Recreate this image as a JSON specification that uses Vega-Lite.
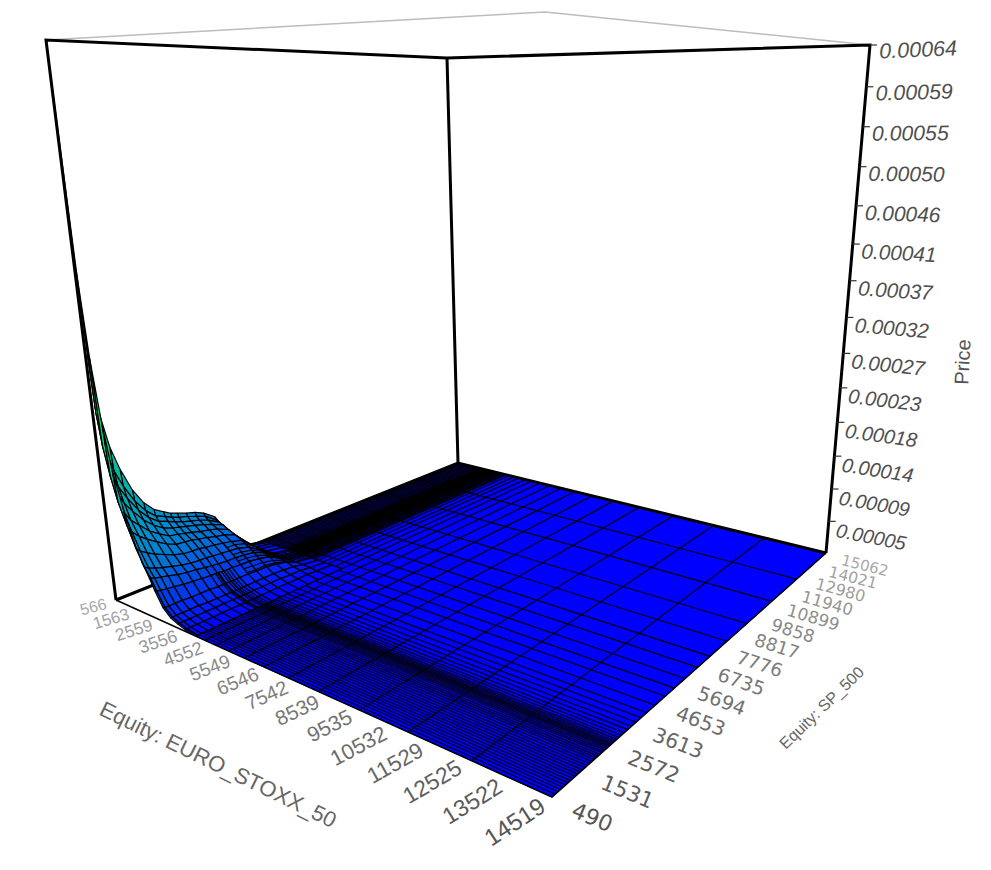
{"$schema":"https://vega.github.io/schema/vega-lite/v6.json","width":991,"height":870,"padding":0,"autosize":{"type":"none"},"background":"white","view":{"stroke":null},
"datasets":{"nodes":[
{"n":18,"e":566,"s":5590,"p":0},{"n":118,"e":622,"s":5590,"p":0},{"n":218,"e":733,"s":5590,"p":0},{"n":318,"e":915,"s":5590,"p":0},{"n":418,"e":1124,"s":5590,"p":0},{"n":518,"e":1403,"s":5590,"p":0},{"n":618,"e":1682,"s":5590,"p":0},{"n":718,"e":1961,"s":5590,"p":0},{"n":818,"e":2171,"s":5590,"p":0},{"n":918,"e":2380,"s":5590,"p":0},{"n":1018,"e":2659,"s":5590,"p":0},{"n":1118,"e":2938,"s":5590,"p":0},{"n":1218,"e":3217,"s":5590,"p":0},{"n":1318,"e":3496,"s":5590,"p":0},{"n":1418,"e":3915,"s":5590,"p":0},
{"n":17,"e":566,"s":5007,"p":4e-6},{"n":117,"e":622,"s":5007,"p":4e-6},{"n":217,"e":733,"s":5007,"p":4e-6},{"n":317,"e":915,"s":5007,"p":4e-6},{"n":417,"e":1124,"s":5007,"p":4e-6},{"n":517,"e":1403,"s":5007,"p":4e-6},{"n":617,"e":1682,"s":5007,"p":4e-6},{"n":717,"e":1961,"s":5007,"p":4e-6},{"n":817,"e":2171,"s":5007,"p":4e-6},{"n":917,"e":2380,"s":5007,"p":4e-6},{"n":1017,"e":2659,"s":5007,"p":3e-6},{"n":1117,"e":2938,"s":5007,"p":3e-6},{"n":1217,"e":3217,"s":5007,"p":2e-6},{"n":1317,"e":3496,"s":5007,"p":1e-6},{"n":1417,"e":3915,"s":5007,"p":0},
{"n":16,"e":566,"s":4643,"p":16e-6},{"n":116,"e":622,"s":4643,"p":16e-6},{"n":216,"e":733,"s":4643,"p":16e-6},{"n":316,"e":915,"s":4643,"p":15e-6},{"n":416,"e":1124,"s":4643,"p":15e-6},{"n":516,"e":1403,"s":4643,"p":15e-6},{"n":616,"e":1682,"s":4643,"p":14e-6},{"n":716,"e":1961,"s":4643,"p":13e-6},{"n":816,"e":2171,"s":4643,"p":12e-6},{"n":916,"e":2380,"s":4643,"p":11e-6},{"n":1016,"e":2659,"s":4643,"p":9e-6},{"n":1116,"e":2938,"s":4643,"p":6e-6},{"n":1216,"e":3217,"s":4643,"p":4e-6},{"n":1316,"e":3496,"s":4643,"p":2e-6},{"n":1416,"e":3915,"s":4643,"p":0},
{"n":15,"e":566,"s":4279,"p":36e-6},{"n":115,"e":622,"s":4279,"p":35e-6},{"n":215,"e":733,"s":4279,"p":34e-6},{"n":315,"e":915,"s":4279,"p":33e-6},{"n":415,"e":1124,"s":4279,"p":31e-6},{"n":515,"e":1403,"s":4279,"p":29e-6},{"n":615,"e":1682,"s":4279,"p":27e-6},{"n":715,"e":1961,"s":4279,"p":24e-6},{"n":815,"e":2171,"s":4279,"p":22e-6},{"n":915,"e":2380,"s":4279,"p":19e-6},{"n":1015,"e":2659,"s":4279,"p":12e-6},{"n":1115,"e":2938,"s":4279,"p":7e-6},{"n":1215,"e":3217,"s":4279,"p":4e-6},{"n":1315,"e":3496,"s":4279,"p":2e-6},{"n":1415,"e":3915,"s":4279,"p":0},
{"n":14,"e":566,"s":3914,"p":60e-6},{"n":114,"e":622,"s":3914,"p":56e-6},{"n":214,"e":733,"s":3914,"p":54e-6},{"n":314,"e":915,"s":3914,"p":52e-6},{"n":414,"e":1124,"s":3914,"p":48e-6},{"n":514,"e":1403,"s":3914,"p":44e-6},{"n":614,"e":1682,"s":3914,"p":39e-6},{"n":714,"e":1961,"s":3914,"p":33e-6},{"n":814,"e":2171,"s":3914,"p":28e-6},{"n":914,"e":2380,"s":3914,"p":22e-6},{"n":1014,"e":2659,"s":3914,"p":14e-6},{"n":1114,"e":2938,"s":3914,"p":8e-6},{"n":1214,"e":3217,"s":3914,"p":5e-6},{"n":1314,"e":3496,"s":3914,"p":2e-6},{"n":1414,"e":3915,"s":3914,"p":0},
{"n":13,"e":566,"s":3550,"p":70e-6},{"n":113,"e":622,"s":3550,"p":66e-6},{"n":213,"e":733,"s":3550,"p":62e-6},{"n":313,"e":915,"s":3550,"p":58e-6},{"n":413,"e":1124,"s":3550,"p":54e-6},{"n":513,"e":1403,"s":3550,"p":49e-6},{"n":613,"e":1682,"s":3550,"p":43e-6},{"n":713,"e":1961,"s":3550,"p":37e-6},{"n":813,"e":2171,"s":3550,"p":30e-6},{"n":913,"e":2380,"s":3550,"p":24e-6},{"n":1013,"e":2659,"s":3550,"p":14e-6},{"n":1113,"e":2938,"s":3550,"p":8e-6},{"n":1213,"e":3217,"s":3550,"p":5e-6},{"n":1313,"e":3496,"s":3550,"p":2e-6},{"n":1413,"e":3915,"s":3550,"p":0},
{"n":12,"e":566,"s":3259,"p":75e-6},{"n":112,"e":622,"s":3259,"p":70e-6},{"n":212,"e":733,"s":3259,"p":66e-6},{"n":312,"e":915,"s":3259,"p":62e-6},{"n":412,"e":1124,"s":3259,"p":57e-6},{"n":512,"e":1403,"s":3259,"p":51e-6},{"n":612,"e":1682,"s":3259,"p":45e-6},{"n":712,"e":1961,"s":3259,"p":38e-6},{"n":812,"e":2171,"s":3259,"p":31e-6},{"n":912,"e":2380,"s":3259,"p":24e-6},{"n":1012,"e":2659,"s":3259,"p":15e-6},{"n":1112,"e":2938,"s":3259,"p":8e-6},{"n":1212,"e":3217,"s":3259,"p":5e-6},{"n":1312,"e":3496,"s":3259,"p":2e-6},{"n":1412,"e":3915,"s":3259,"p":0},
{"n":11,"e":566,"s":2967,"p":78e-6},{"n":111,"e":622,"s":2967,"p":74e-6},{"n":211,"e":733,"s":2967,"p":69e-6},{"n":311,"e":915,"s":2967,"p":65e-6},{"n":411,"e":1124,"s":2967,"p":59e-6},{"n":511,"e":1403,"s":2967,"p":54e-6},{"n":611,"e":1682,"s":2967,"p":47e-6},{"n":711,"e":1961,"s":2967,"p":39e-6},{"n":811,"e":2171,"s":2967,"p":31e-6},{"n":911,"e":2380,"s":2967,"p":25e-6},{"n":1011,"e":2659,"s":2967,"p":15e-6},{"n":1111,"e":2938,"s":2967,"p":8e-6},{"n":1211,"e":3217,"s":2967,"p":5e-6},{"n":1311,"e":3496,"s":2967,"p":2e-6},{"n":1411,"e":3915,"s":2967,"p":0},
{"n":10,"e":566,"s":2676,"p":82e-6},{"n":110,"e":622,"s":2676,"p":77e-6},{"n":210,"e":733,"s":2676,"p":72e-6},{"n":310,"e":915,"s":2676,"p":68e-6},{"n":410,"e":1124,"s":2676,"p":62e-6},{"n":510,"e":1403,"s":2676,"p":56e-6},{"n":610,"e":1682,"s":2676,"p":48e-6},{"n":710,"e":1961,"s":2676,"p":40e-6},{"n":810,"e":2171,"s":2676,"p":32e-6},{"n":910,"e":2380,"s":2676,"p":25e-6},{"n":1010,"e":2659,"s":2676,"p":15e-6},{"n":1110,"e":2938,"s":2676,"p":8e-6},{"n":1210,"e":3217,"s":2676,"p":5e-6},{"n":1310,"e":3496,"s":2676,"p":2e-6},{"n":1410,"e":3915,"s":2676,"p":0},
{"n":9,"e":566,"s":2457,"p":85e-6},{"n":109,"e":622,"s":2457,"p":80e-6},{"n":209,"e":733,"s":2457,"p":75e-6},{"n":309,"e":915,"s":2457,"p":70e-6},{"n":409,"e":1124,"s":2457,"p":64e-6},{"n":509,"e":1403,"s":2457,"p":58e-6},{"n":609,"e":1682,"s":2457,"p":50e-6},{"n":709,"e":1961,"s":2457,"p":41e-6},{"n":809,"e":2171,"s":2457,"p":33e-6},{"n":909,"e":2380,"s":2457,"p":26e-6},{"n":1009,"e":2659,"s":2457,"p":15e-6},{"n":1109,"e":2938,"s":2457,"p":8e-6},{"n":1209,"e":3217,"s":2457,"p":5e-6},{"n":1309,"e":3496,"s":2457,"p":2e-6},{"n":1409,"e":3915,"s":2457,"p":0},
{"n":8,"e":566,"s":2239,"p":90e-6},{"n":108,"e":622,"s":2239,"p":84e-6},{"n":208,"e":733,"s":2239,"p":79e-6},{"n":308,"e":915,"s":2239,"p":72e-6},{"n":408,"e":1124,"s":2239,"p":66e-6},{"n":508,"e":1403,"s":2239,"p":59e-6},{"n":608,"e":1682,"s":2239,"p":50e-6},{"n":708,"e":1961,"s":2239,"p":41e-6},{"n":808,"e":2171,"s":2239,"p":34e-6},{"n":908,"e":2380,"s":2239,"p":26e-6},{"n":1008,"e":2659,"s":2239,"p":15e-6},{"n":1108,"e":2938,"s":2239,"p":8e-6},{"n":1208,"e":3217,"s":2239,"p":5e-6},{"n":1308,"e":3496,"s":2239,"p":2e-6},{"n":1408,"e":3915,"s":2239,"p":0},
{"n":7,"e":566,"s":1947,"p":97e-6},{"n":107,"e":622,"s":1947,"p":89e-6},{"n":207,"e":733,"s":1947,"p":83e-6},{"n":307,"e":915,"s":1947,"p":76e-6},{"n":407,"e":1124,"s":1947,"p":68e-6},{"n":507,"e":1403,"s":1947,"p":60e-6},{"n":607,"e":1682,"s":1947,"p":51e-6},{"n":707,"e":1961,"s":1947,"p":42e-6},{"n":807,"e":2171,"s":1947,"p":36e-6},{"n":907,"e":2380,"s":1947,"p":27e-6},{"n":1007,"e":2659,"s":1947,"p":16e-6},{"n":1107,"e":2938,"s":1947,"p":8e-6},{"n":1207,"e":3217,"s":1947,"p":5e-6},{"n":1307,"e":3496,"s":1947,"p":2e-6},{"n":1407,"e":3915,"s":1947,"p":0},
{"n":6,"e":566,"s":1656,"p":110e-6},{"n":106,"e":622,"s":1656,"p":100e-6},{"n":206,"e":733,"s":1656,"p":92e-6},{"n":306,"e":915,"s":1656,"p":84e-6},{"n":406,"e":1124,"s":1656,"p":75e-6},{"n":506,"e":1403,"s":1656,"p":65e-6},{"n":606,"e":1682,"s":1656,"p":54e-6},{"n":706,"e":1961,"s":1656,"p":44e-6},{"n":806,"e":2171,"s":1656,"p":37e-6},{"n":906,"e":2380,"s":1656,"p":28e-6},{"n":1006,"e":2659,"s":1656,"p":16e-6},{"n":1106,"e":2938,"s":1656,"p":8e-6},{"n":1206,"e":3217,"s":1656,"p":5e-6},{"n":1306,"e":3496,"s":1656,"p":2e-6},{"n":1406,"e":3915,"s":1656,"p":0},
{"n":5,"e":566,"s":1364,"p":130e-6},{"n":105,"e":622,"s":1364,"p":116e-6},{"n":205,"e":733,"s":1364,"p":106e-6},{"n":305,"e":915,"s":1364,"p":95e-6},{"n":405,"e":1124,"s":1364,"p":83e-6},{"n":505,"e":1403,"s":1364,"p":72e-6},{"n":605,"e":1682,"s":1364,"p":59e-6},{"n":705,"e":1961,"s":1364,"p":47e-6},{"n":805,"e":2171,"s":1364,"p":39e-6},{"n":905,"e":2380,"s":1364,"p":29e-6},{"n":1005,"e":2659,"s":1364,"p":16e-6},{"n":1105,"e":2938,"s":1364,"p":9e-6},{"n":1205,"e":3217,"s":1364,"p":5e-6},{"n":1305,"e":3496,"s":1364,"p":2e-6},{"n":1405,"e":3915,"s":1364,"p":0},
{"n":4,"e":566,"s":1073,"p":160e-6},{"n":104,"e":622,"s":1073,"p":139e-6},{"n":204,"e":733,"s":1073,"p":125e-6},{"n":304,"e":915,"s":1073,"p":110e-6},{"n":404,"e":1124,"s":1073,"p":95e-6},{"n":504,"e":1403,"s":1073,"p":80e-6},{"n":604,"e":1682,"s":1073,"p":64e-6},{"n":704,"e":1961,"s":1073,"p":50e-6},{"n":804,"e":2171,"s":1073,"p":42e-6},{"n":904,"e":2380,"s":1073,"p":31e-6},{"n":1004,"e":2659,"s":1073,"p":17e-6},{"n":1104,"e":2938,"s":1073,"p":9e-6},{"n":1204,"e":3217,"s":1073,"p":5e-6},{"n":1304,"e":3496,"s":1073,"p":2e-6},{"n":1404,"e":3915,"s":1073,"p":0},
{"n":3,"e":566,"s":854,"p":190e-6},{"n":103,"e":622,"s":854,"p":161e-6},{"n":203,"e":733,"s":854,"p":142e-6},{"n":303,"e":915,"s":854,"p":123e-6},{"n":403,"e":1124,"s":854,"p":104e-6},{"n":503,"e":1403,"s":854,"p":87e-6},{"n":603,"e":1682,"s":854,"p":69e-6},{"n":703,"e":1961,"s":854,"p":53e-6},{"n":803,"e":2171,"s":854,"p":44e-6},{"n":903,"e":2380,"s":854,"p":32e-6},{"n":1003,"e":2659,"s":854,"p":17e-6},{"n":1103,"e":2938,"s":854,"p":9e-6},{"n":1203,"e":3217,"s":854,"p":5e-6},{"n":1303,"e":3496,"s":854,"p":2e-6},{"n":1403,"e":3915,"s":854,"p":0},
{"n":2,"e":566,"s":665,"p":235e-6},{"n":102,"e":622,"s":665,"p":192e-6},{"n":202,"e":733,"s":665,"p":166e-6},{"n":302,"e":915,"s":665,"p":140e-6},{"n":402,"e":1124,"s":665,"p":117e-6},{"n":502,"e":1403,"s":665,"p":95e-6},{"n":602,"e":1682,"s":665,"p":74e-6},{"n":702,"e":1961,"s":665,"p":56e-6},{"n":802,"e":2171,"s":665,"p":46e-6},{"n":902,"e":2380,"s":665,"p":33e-6},{"n":1002,"e":2659,"s":665,"p":17e-6},{"n":1102,"e":2938,"s":665,"p":9e-6},{"n":1202,"e":3217,"s":665,"p":5e-6},{"n":1302,"e":3496,"s":665,"p":2e-6},{"n":1402,"e":3915,"s":665,"p":0},
{"n":1,"e":566,"s":548,"p":300e-6},{"n":101,"e":622,"s":548,"p":234e-6},{"n":201,"e":733,"s":548,"p":196e-6},{"n":301,"e":915,"s":548,"p":161e-6},{"n":401,"e":1124,"s":548,"p":131e-6},{"n":501,"e":1403,"s":548,"p":104e-6},{"n":601,"e":1682,"s":548,"p":79e-6},{"n":701,"e":1961,"s":548,"p":59e-6},{"n":801,"e":2171,"s":548,"p":48e-6},{"n":901,"e":2380,"s":548,"p":34e-6},{"n":1001,"e":2659,"s":548,"p":17e-6},{"n":1101,"e":2938,"s":548,"p":9e-6},{"n":1201,"e":3217,"s":548,"p":5e-6},{"n":1301,"e":3496,"s":548,"p":2e-6},{"n":1401,"e":3915,"s":548,"p":0},
{"n":0,"e":566,"s":490,"p":640e-6},{"n":100,"e":622,"s":490,"p":400e-6},{"n":200,"e":733,"s":490,"p":300e-6},{"n":300,"e":915,"s":490,"p":225e-6},{"n":400,"e":1124,"s":490,"p":170e-6},{"n":500,"e":1403,"s":490,"p":128e-6},{"n":600,"e":1682,"s":490,"p":92e-6},{"n":700,"e":1961,"s":490,"p":66e-6},{"n":800,"e":2171,"s":490,"p":52e-6},{"n":900,"e":2380,"s":490,"p":36e-6},{"n":1000,"e":2659,"s":490,"p":18e-6},{"n":1100,"e":2938,"s":490,"p":9e-6},{"n":1200,"e":3217,"s":490,"p":5e-6},{"n":1300,"e":3496,"s":490,"p":2e-6},{"n":1400,"e":3915,"s":490,"p":0}
]},
"encoding":{"x":{"field":"px","type":"quantitative","scale":{"domain":[0,991]},"axis":null},"y":{"field":"py","type":"quantitative","scale":{"domain":[870,0]},"axis":null}},
"resolve":{"scale":{"size":"independent","angle":"independent","color":"independent","fill":"independent"}},
"layer":[
{"data":{"values":[{"o":0,"e":3915,"s":490,"p":0},{"o":1,"e":14519,"s":490,"p":0},{"o":2,"e":14519,"s":15062,"p":0},{"o":3,"e":566,"s":15062,"p":0},{"o":4,"e":566,"s":5590,"p":0},{"o":5,"e":3915,"s":5590,"p":0}]},
"transform":[{"calculate":"(datum.e-566)/13953","as":"u"},{"calculate":"(datum.s-490)/14572","as":"v"},{"calculate":"(116+275.61*datum.u+525.71*datum.v)/(1-0.29057*datum.u+0.40112*datum.v)","as":"px"},{"calculate":"(600-34.58*datum.u+48.72*datum.v)/(1-0.29057*datum.u+0.40112*datum.v)","as":"py"}],
"mark":{"type":"line","fill":"#0000ff","stroke":"#0000ff","strokeWidth":1},"encoding":{"order":{"field":"o","type":"ordinal"}}},
{"data":{"values":[{"e":650},{"e":733},{"e":817},{"e":901},{"e":985},{"e":1068},{"e":1152},{"e":1236},{"e":1319},{"e":1403},{"e":1487},{"e":1543},{"e":1599},{"e":1654},{"e":1682},{"e":1710},{"e":1738},{"e":1766},{"e":1794},{"e":1822},{"e":1850},{"e":1878},{"e":1906},{"e":1933},{"e":1961},{"e":1989},{"e":2017},{"e":2045},{"e":2073},{"e":2101},{"e":2129},{"e":2157},{"e":2185},{"e":2212},{"e":2240},{"e":2268},{"e":2296},{"e":2324},{"e":2380},{"e":2436},{"e":2491},{"e":2547},{"e":2603},{"e":2659},{"e":2729},{"e":2798},{"e":2938},{"e":3147},{"e":3357},{"e":3636},{"e":3915},{"e":4264},{"e":4682},{"e":5170},{"e":5729},{"e":6426},{"e":7263},{"e":8240},{"e":9496},{"e":10905},{"e":12594},
{"s":12760},{"s":11000},{"s":9394},{"s":8213},{"s":7266},{"s":6610},{"s":5969},{"s":5444},{"s":5007},{"s":4541},{"s":4162},{"s":3914},{"s":3696},{"s":3506},{"s":3346},{"s":3200},{"s":3084},{"s":2982},{"s":2894},{"s":2822},{"s":2763},{"s":2705},{"s":2661},{"s":2618},{"s":2574},{"s":2530},{"s":2472},{"s":2414},{"s":2355},{"s":2297},{"s":2224},{"s":2151},{"s":2078},{"s":2005},{"s":1918},{"s":1831},{"s":1743},{"s":1656},{"s":1568},{"s":1481},{"s":1393},{"s":1306},{"s":1219},{"s":1131},{"s":1044},{"s":956},{"s":869},{"s":781},{"s":694},{"s":592}]},
"transform":[{"calculate":"isValid(datum.e)?(datum.e-566)/13953:(datum.s<5590?0.24:0)","as":"u"},{"calculate":"isValid(datum.e)?(datum.e-566)/13953:1","as":"u2"},{"calculate":"isValid(datum.s)?(datum.s-490)/14572:(datum.e<3915?0.35:0)","as":"v"},{"calculate":"isValid(datum.s)?(datum.s-490)/14572:1","as":"v2"},{"calculate":"(116+275.61*datum.u+525.71*datum.v)/(1-0.29057*datum.u+0.40112*datum.v)","as":"px"},{"calculate":"(600-34.58*datum.u+48.72*datum.v)/(1-0.29057*datum.u+0.40112*datum.v)","as":"py"},{"calculate":"(116+275.61*datum.u2+525.71*datum.v2)/(1-0.29057*datum.u2+0.40112*datum.v2)","as":"px2"},{"calculate":"(600-34.58*datum.u2+48.72*datum.v2)/(1-0.29057*datum.u2+0.40112*datum.v2)","as":"py2"}],
"mark":{"type":"rule","stroke":"#000000","strokeWidth":1.15},"encoding":{"x2":{"field":"px2"},"y2":{"field":"py2"}}},
{"data":{"values":[{"g":"a","o":0,"e":566,"s":490,"p":0},{"g":"a","o":1,"e":566,"s":15062,"p":0},{"g":"a","o":2,"e":14519,"s":15062,"p":0},{"g":"b","o":0,"e":566,"s":490,"p":0},{"g":"b","o":1,"e":14519,"s":490,"p":0},{"g":"b","o":2,"e":14519,"s":15062,"p":0}]},
"transform":[{"calculate":"(datum.e-566)/13953","as":"u"},{"calculate":"(datum.s-490)/14572","as":"v"},{"calculate":"(116+275.61*datum.u+525.71*datum.v)/(1-0.29057*datum.u+0.40112*datum.v)","as":"px"},{"calculate":"(600-34.58*datum.u+48.72*datum.v)/(1-0.29057*datum.u+0.40112*datum.v)","as":"py"}],
"mark":{"type":"line","stroke":"#000000"},"encoding":{"detail":{"field":"g"},"order":{"field":"o","type":"ordinal"},"strokeWidth":{"field":"g","type":"nominal","scale":{"domain":["a","b"],"range":[3,1.6]},"legend":null}}},
{"data":{"name":"nodes"},
"transform":[{"calculate":"[0,1,1,0,0]","as":"di"},{"calculate":"[0,0,1,1,0]","as":"dj"},{"calculate":"[0,1,2,3,4]","as":"k"},{"calculate":"'c'+datum.n","as":"id"},{"flatten":["di","dj","k"]},{"calculate":"datum.n+100*datum.di+datum.dj","as":"m"},
{"lookup":"m","from":{"data":{"name":"nodes"},"key":"n","fields":["e","s","p"]},"as":["ee","ss","pp"]},
{"joinaggregate":[{"op":"mean","field":"pp","as":"c"},{"op":"valid","field":"pp","as":"nv"}],"groupby":["id"]},{"filter":"datum.nv==5"},
{"calculate":"(datum.ee-566)/13953","as":"u"},{"calculate":"(datum.ss-490)/14572","as":"v"},{"calculate":"datum.pp/0.00064","as":"h"},
{"calculate":"(1-datum.h)*(1-0.29057*datum.u+0.40112*datum.v)+datum.h*0.864*(1-0.2946*datum.u+0.40602*datum.v)","as":"w"},
{"calculate":"((1-datum.h)*(116+275.61*datum.u+525.71*datum.v)+datum.h*0.864*(46+338.44*datum.u+582.49*datum.v))/datum.w","as":"px"},
{"calculate":"((1-datum.h)*(600-34.58*datum.u+48.72*datum.v)+datum.h*0.864*(40-31.54*datum.u+41.55*datum.v))/datum.w","as":"py"}],
"mark":{"type":"line","stroke":"#000000","strokeWidth":1.2},
"encoding":{"detail":{"field":"id"},"order":{"field":"k","type":"ordinal"},"fill":{"field":"c","type":"quantitative","legend":null,"scale":{"domain":[0,0.00003,0.00006,0.00012,0.00016,0.00024,0.00032,0.00064],"range":["#0000ff","#0040e0","#0078d0","#00a8b8","#00b8a0","#00e070","#00f050","#00ff30"]}}}},
{"data":{"values":[
{"g":"a","e":1800,"s":3259,"p":40e-6},{"g":"a","e":1800,"s":3550,"p":40e-6},{"g":"a","e":1800,"s":3914,"p":36e-6},{"g":"a","e":1800,"s":4279,"p":26e-6},{"g":"a","e":1800,"s":4643,"p":13e-6},{"g":"a","e":1800,"s":5007,"p":4e-6},{"g":"a","e":1800,"s":5590,"p":0},
{"g":"b","e":1961,"s":3259,"p":38e-6},{"g":"b","e":1961,"s":3550,"p":37e-6},{"g":"b","e":1961,"s":3914,"p":33e-6},{"g":"b","e":1961,"s":4279,"p":24e-6},{"g":"b","e":1961,"s":4643,"p":13e-6},{"g":"b","e":1961,"s":5007,"p":4e-6},{"g":"b","e":1961,"s":5590,"p":0},
{"g":"c","e":2070,"s":3259,"p":34e-6},{"g":"c","e":2070,"s":3550,"p":33e-6},{"g":"c","e":2070,"s":3914,"p":30e-6},{"g":"c","e":2070,"s":4279,"p":23e-6},{"g":"c","e":2070,"s":4643,"p":12e-6},{"g":"c","e":2070,"s":5007,"p":4e-6},{"g":"c","e":2070,"s":5590,"p":0},
{"g":"d","e":2171,"s":3259,"p":31e-6},{"g":"d","e":2171,"s":3550,"p":30e-6},{"g":"d","e":2171,"s":3914,"p":28e-6},{"g":"d","e":2171,"s":4279,"p":22e-6},{"g":"d","e":2171,"s":4643,"p":12e-6},{"g":"d","e":2171,"s":5007,"p":4e-6},{"g":"d","e":2171,"s":5590,"p":0},
{"g":"f","e":2280,"s":3259,"p":28e-6},{"g":"f","e":2280,"s":3550,"p":27e-6},{"g":"f","e":2280,"s":3914,"p":25e-6},{"g":"f","e":2280,"s":4279,"p":20e-6},{"g":"f","e":2280,"s":4643,"p":11e-6},{"g":"f","e":2280,"s":5007,"p":4e-6},{"g":"f","e":2280,"s":5590,"p":0},
{"g":"h","e":2380,"s":3259,"p":24e-6},{"g":"h","e":2380,"s":3550,"p":24e-6},{"g":"h","e":2380,"s":3914,"p":22e-6},{"g":"h","e":2380,"s":4279,"p":19e-6},{"g":"h","e":2380,"s":4643,"p":11e-6},{"g":"h","e":2380,"s":5007,"p":4e-6},{"g":"h","e":2380,"s":5590,"p":0},
{"g":"i","e":2500,"s":3259,"p":20e-6},{"g":"i","e":2500,"s":3550,"p":19e-6},{"g":"i","e":2500,"s":3914,"p":18e-6},{"g":"i","e":2500,"s":4279,"p":15e-6},{"g":"i","e":2500,"s":4643,"p":10e-6},{"g":"i","e":2500,"s":5007,"p":4e-6},{"g":"i","e":2500,"s":5590,"p":0},
{"g":"j","e":2600,"s":3259,"p":16e-6},{"g":"j","e":2600,"s":3550,"p":15e-6},{"g":"j","e":2600,"s":3914,"p":15e-6},{"g":"j","e":2600,"s":4279,"p":13e-6},{"g":"j","e":2600,"s":4643,"p":9e-6},{"g":"j","e":2600,"s":5007,"p":3e-6},{"g":"j","e":2600,"s":5590,"p":0},
{"g":"l","e":2380,"s":2400,"p":26e-6},{"g":"l","e":2659,"s":2400,"p":15e-6},{"g":"l","e":2938,"s":2400,"p":8e-6},{"g":"l","e":3217,"s":2400,"p":5e-6},{"g":"l","e":3496,"s":2400,"p":2e-6},{"g":"l","e":3915,"s":2400,"p":0},
{"g":"m","e":2380,"s":2500,"p":26e-6},{"g":"m","e":2659,"s":2500,"p":15e-6},{"g":"m","e":2938,"s":2500,"p":8e-6},{"g":"m","e":3217,"s":2500,"p":5e-6},{"g":"m","e":3496,"s":2500,"p":2e-6},{"g":"m","e":3915,"s":2500,"p":0},
{"g":"q","e":2380,"s":2600,"p":25e-6},{"g":"q","e":2659,"s":2600,"p":15e-6},{"g":"q","e":2938,"s":2600,"p":8e-6},{"g":"q","e":3217,"s":2600,"p":5e-6},{"g":"q","e":3496,"s":2600,"p":2e-6},{"g":"q","e":3915,"s":2600,"p":0},
{"g":"r","e":2380,"s":2676,"p":25e-6},{"g":"r","e":2659,"s":2676,"p":15e-6},{"g":"r","e":2938,"s":2676,"p":8e-6},{"g":"r","e":3217,"s":2676,"p":5e-6},{"g":"r","e":3496,"s":2676,"p":2e-6},{"g":"r","e":3915,"s":2676,"p":0},
{"g":"t","e":2380,"s":2760,"p":25e-6},{"g":"t","e":2659,"s":2760,"p":15e-6},{"g":"t","e":2938,"s":2760,"p":8e-6},{"g":"t","e":3217,"s":2760,"p":5e-6},{"g":"t","e":3496,"s":2760,"p":2e-6},{"g":"t","e":3915,"s":2760,"p":0},
{"g":"x","e":2380,"s":2850,"p":25e-6},{"g":"x","e":2659,"s":2850,"p":15e-6},{"g":"x","e":2938,"s":2850,"p":8e-6},{"g":"x","e":3217,"s":2850,"p":5e-6},{"g":"x","e":3496,"s":2850,"p":2e-6},{"g":"x","e":3915,"s":2850,"p":0}
]},
"transform":[{"calculate":"(datum.e-566)/13953","as":"u"},{"calculate":"(datum.s-490)/14572","as":"v"},{"calculate":"datum.p/0.00064","as":"h"},
{"calculate":"(1-datum.h)*(1-0.29057*datum.u+0.40112*datum.v)+datum.h*0.864*(1-0.2946*datum.u+0.40602*datum.v)","as":"w"},
{"calculate":"((1-datum.h)*(116+275.61*datum.u+525.71*datum.v)+datum.h*0.864*(46+338.44*datum.u+582.49*datum.v))/datum.w","as":"px"},
{"calculate":"((1-datum.h)*(600-34.58*datum.u+48.72*datum.v)+datum.h*0.864*(40-31.54*datum.u+41.55*datum.v))/datum.w","as":"py"}],
"mark":{"type":"line","stroke":"#000000","strokeWidth":1.1},"encoding":{"detail":{"field":"g"},"order":{"field":"e","type":"quantitative"}}},
{"data":{"values":[{"g":"a","o":0,"e":566,"s":490,"p":0.00064},{"g":"a","o":1,"e":14519,"s":490,"p":0.00064},{"g":"a","o":2,"e":14519,"s":15062,"p":0.00064}]},
"transform":[{"calculate":"(datum.e-566)/13953","as":"u"},{"calculate":"(datum.s-490)/14572","as":"v"},{"calculate":"(46+338.44*datum.u+582.49*datum.v)/(1-0.2946*datum.u+0.40602*datum.v)","as":"px"},{"calculate":"(40-31.54*datum.u+41.55*datum.v)/(1-0.2946*datum.u+0.40602*datum.v)","as":"py"}],
"mark":{"type":"line","stroke":"#bdbdbd","strokeWidth":1.5},"encoding":{"order":{"field":"o","type":"ordinal"}}},
{"data":{"values":[{"g":"a","o":0,"e":566,"s":490,"p":0},{"g":"a","o":1,"e":566,"s":490,"p":0.00064},{"g":"a","o":2,"e":566,"s":15062,"p":0.00064},{"g":"a","o":3,"e":14519,"s":15062,"p":0.00064},{"g":"a","o":4,"e":14519,"s":15062,"p":0},{"g":"b","o":0,"e":566,"s":15062,"p":0.00064},{"g":"b","o":1,"e":566,"s":15062,"p":0}]},
"transform":[{"calculate":"(datum.e-566)/13953","as":"u"},{"calculate":"(datum.s-490)/14572","as":"v"},{"calculate":"datum.p/0.00064","as":"h"},
{"calculate":"(1-datum.h)*(1-0.29057*datum.u+0.40112*datum.v)+datum.h*0.864*(1-0.2946*datum.u+0.40602*datum.v)","as":"w"},
{"calculate":"((1-datum.h)*(116+275.61*datum.u+525.71*datum.v)+datum.h*0.864*(46+338.44*datum.u+582.49*datum.v))/datum.w","as":"px"},
{"calculate":"((1-datum.h)*(600-34.58*datum.u+48.72*datum.v)+datum.h*0.864*(40-31.54*datum.u+41.55*datum.v))/datum.w","as":"py"}],
"mark":{"type":"line","stroke":"#000000","strokeWidth":3},"encoding":{"detail":{"field":"g"},"order":{"field":"o","type":"ordinal"}}},
{"data":{"values":[{"p":0.0000457},{"p":0.0000914},{"p":0.000137},{"p":0.000183},{"p":0.000229},{"p":0.000274},{"p":0.00032},{"p":0.000366},{"p":0.000411},{"p":0.000457},{"p":0.000503},{"p":0.000549},{"p":0.000594},{"p":0.00064}]},
"transform":[{"calculate":"datum.p/0.00064","as":"h"},{"calculate":"(1-datum.h)*1.11055+datum.h*0.864*1.11142","as":"w"},{"calculate":"((1-datum.h)*917.32+datum.h*0.864*966.93)/datum.w","as":"px"},{"calculate":"((1-datum.h)*614.14+datum.h*0.864*50.01)/datum.w","as":"py"},{"calculate":"datum.px+7","as":"px2"}],
"layer":[{"mark":{"type":"rule","stroke":"#333333","strokeWidth":1.2},"encoding":{"x2":{"field":"px2"}}},
{"mark":{"type":"text","align":"left","baseline":"middle","font":"Liberation Sans","fontStyle":"italic","fill":"#4f4f4f","dx":9,"dy":8},"encoding":{"text":{"field":"p","type":"quantitative","format":".5f"},"size":{"field":"p","type":"quantitative","legend":null,"scale":{"type":"linear","zero":false,"domain":[0,0.00064],"range":[19.5,21.5]}},"angle":{"field":"p","type":"quantitative","legend":null,"scale":{"type":"linear","zero":false,"domain":[0,0.00064],"range":[12,-2.5]}}}}]},
{"data":{"values":[{"e":566},{"e":1563},{"e":2559},{"e":3556},{"e":4552},{"e":5549},{"e":6546},{"e":7542},{"e":8539},{"e":9535},{"e":10532},{"e":11529},{"e":12525},{"e":13522},{"e":14519}]},
"transform":[{"calculate":"(datum.e-566)/13953","as":"u"},{"calculate":"(116+275.61*datum.u-10.5)/(1-0.29057*datum.u-0.008)","as":"px"},{"calculate":"(600-34.58*datum.u-0.97)/(1-0.29057*datum.u-0.008)","as":"py"}],
"mark":{"type":"text","align":"right","baseline":"middle","font":"Liberation Sans"},"encoding":{"text":{"field":"e","type":"quantitative","format":"d"},"size":{"field":"e","type":"quantitative","legend":null,"scale":{"type":"linear","zero":false,"domain":[566,14519],"range":[16,24]}},"angle":{"field":"e","type":"quantitative","legend":null,"scale":{"type":"linear","zero":false,"domain":[566,14519],"range":[-15,-33]}},"color":{"field":"e","type":"quantitative","legend":null,"scale":{"type":"linear","zero":false,"domain":[566,14519],"range":["#a8a8a8","#555555"]}}}},
{"data":{"values":[{"s":490},{"s":1531},{"s":2572},{"s":3613},{"s":4653},{"s":5694},{"s":6735},{"s":7776},{"s":8817},{"s":9858},{"s":10899},{"s":11940},{"s":12980},{"s":14021},{"s":15062}]},
"transform":[{"calculate":"(datum.s-490)/14572","as":"v"},{"calculate":"(116+285.25+525.71*datum.v)/(1-0.30074+0.40112*datum.v)","as":"px"},{"calculate":"(600-35.79+48.72*datum.v)/(1-0.30074+0.40112*datum.v)","as":"py"}],
"mark":{"type":"text","align":"left","baseline":"middle","font":"DejaVu Sans","dy":3},"encoding":{"text":{"field":"s","type":"quantitative","format":"d"},"size":{"field":"s","type":"quantitative","legend":null,"scale":{"type":"linear","zero":false,"domain":[490,15062],"range":[22,15]}},"angle":{"field":"s","type":"quantitative","legend":null,"scale":{"type":"linear","zero":false,"domain":[490,15062],"range":[23,14]}},"color":{"field":"s","type":"quantitative","legend":null,"scale":{"type":"linear","zero":false,"domain":[490,15062],"range":["#555555","#a8a8a8"]}}}},
{"data":{"values":[{"t":"Equity: EURO_STOXX_50","e":8673,"s":-2666}]},
"transform":[{"calculate":"(datum.e-566)/13953","as":"u"},{"calculate":"(datum.s-490)/14572","as":"v"},{"calculate":"(116+275.61*datum.u+525.71*datum.v)/(1-0.29057*datum.u+0.40112*datum.v)","as":"px"},{"calculate":"(600-34.58*datum.u+48.72*datum.v)/(1-0.29057*datum.u+0.40112*datum.v)","as":"py"}],
"mark":{"type":"text","font":"Liberation Sans","fontSize":22,"angle":26,"fill":"#666666","baseline":"middle","align":"center"},"encoding":{"text":{"field":"t"}}},
{"data":{"values":[{"t":"Equity: SP_500","e":17470,"s":6642}]},
"transform":[{"calculate":"(datum.e-566)/13953","as":"u"},{"calculate":"(datum.s-490)/14572","as":"v"},{"calculate":"(116+275.61*datum.u+525.71*datum.v)/(1-0.29057*datum.u+0.40112*datum.v)","as":"px"},{"calculate":"(600-34.58*datum.u+48.72*datum.v)/(1-0.29057*datum.u+0.40112*datum.v)","as":"py"}],
"mark":{"type":"text","font":"Liberation Sans","fontSize":16,"angle":-44,"fill":"#666666","baseline":"middle","align":"center"},"encoding":{"text":{"field":"t"}}},
{"data":{"values":[{"t":"Price","e":17700,"s":15062,"p":0.000282}]},
"transform":[{"calculate":"(datum.e-566)/13953","as":"u"},{"calculate":"(datum.s-490)/14572","as":"v"},{"calculate":"datum.p/0.00064","as":"h"},
{"calculate":"(1-datum.h)*(1-0.29057*datum.u+0.40112*datum.v)+datum.h*0.864*(1-0.2946*datum.u+0.40602*datum.v)","as":"w"},
{"calculate":"((1-datum.h)*(116+275.61*datum.u+525.71*datum.v)+datum.h*0.864*(46+338.44*datum.u+582.49*datum.v))/datum.w","as":"px"},
{"calculate":"((1-datum.h)*(600-34.58*datum.u+48.72*datum.v)+datum.h*0.864*(40-31.54*datum.u+41.55*datum.v))/datum.w","as":"py"}],
"mark":{"type":"text","font":"Liberation Sans","fontSize":20,"angle":-87,"fill":"#555555","baseline":"middle","align":"center"},"encoding":{"text":{"field":"t"}}}
]}
